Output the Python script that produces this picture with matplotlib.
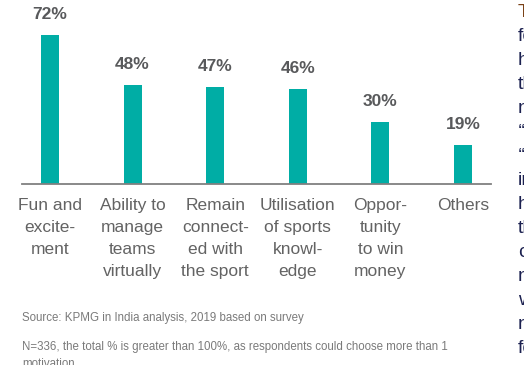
import numpy as np
import matplotlib.pyplot as plt

plt.rcParams['font.family'] = ['Liberation Sans', 'DejaVu Sans']

categories = ["Fun and\nexcite-\nment", "Ability to\nmanage\nteams\nvirtually",
              "Remain\nconnect-\ned with\nthe sport", "Utilisation\nof sports\nknowl-\nedge",
              "Oppor-\ntunity\nto win\nmoney", "Others"]
values = [72, 48, 47, 46, 30, 19]
source = "Source: KPMG in India analysis, 2019 based on survey"
note = "N=336, the total % is greater than 100%, as respondents could choose more than 1\nmotivation"
# start of the cropped body text on the right edge
side_words = ["Th", "fo", "ho", "th", "nu", "\u2018\u2018", "\u2018\u2018", "in", "ho", "th", "co", "nu", "wa", "nu", "fo"]

W, H = 524, 365
fig = plt.figure(figsize=(W / 100, H / 100), dpi=100)

base_px = 184
ax = fig.add_axes([22 / W, (H - base_px) / H, (491 - 22) / W, base_px / H])
x = np.arange(len(values))
ax.bar(x, values, width=0.218, color="#00ADA5")
ax.set_xlim(-0.339, 5.339)
ax.set_ylim(0, base_px / 2.07)
for s in ["top", "right", "left"]:
    ax.spines[s].set_visible(False)
ax.spines["bottom"].set_color("#808080")
ax.spines["bottom"].set_linewidth(1.3)
ax.set_xticks([])
ax.set_yticks([])
ax.patch.set_alpha(0)

for xi, v, lab in zip(x, values, categories):
    ax.annotate(f"{v}%", (xi, v), xytext=(0, 11.5), textcoords="offset points",
                ha="center", va="baseline", fontsize=12.5, fontweight="bold",
                color="#58595B", annotation_clip=False)
    ax.annotate(lab, (xi, 0), xytext=(0, -10), textcoords="offset points",
                ha="center", va="top", fontsize=12.5, color="#636363",
                linespacing=1.58, annotation_clip=False)

fig.text(22 / W, 1 - 318 / H, source, fontsize=8.3, color="#7a7a7a", va="center")
fig.text(22 / W, 1 - 341 / H, note, fontsize=8.3, color="#7a7a7a", va="top",
         linespacing=1.55)

for i, w in enumerate(side_words):
    col = "#7a4218" if i == 0 else "#1c2150"
    fig.text(518 / W, 1 - (17 + 24 * i) / H, w, fontsize=14, color=col,
             va="baseline", ha="left")

fig.savefig("out.png", dpi=100)
